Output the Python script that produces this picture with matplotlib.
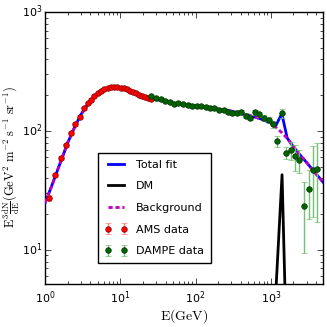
import matplotlib
matplotlib.use("Agg")
import matplotlib.pyplot as plt
import numpy as np

# AMS positron-like data (E in GeV, E^3 dN/dE, error)
ams_e = [1.11, 1.36, 1.63, 1.90, 2.21, 2.52, 2.88, 3.25, 3.67, 4.07, 4.5, 4.99, 5.52,
         6.1, 6.76, 7.48, 8.28, 9.16, 10.1, 11.1, 12.2, 13.4, 14.7, 16.1, 17.7, 19.4,
         21.3, 23.4, 25.7]
ams_v = [27.5, 42.5, 59.5, 76, 96, 114, 132, 155, 173, 184, 197, 207, 218,
         226, 232, 235, 236, 234, 232, 228, 224, 218, 213, 207, 202, 197,
         193, 190, 187]
ams_err = [1.5, 1.5, 2, 2.5, 3, 3, 3.5, 4, 4, 4, 4, 4, 4,
           4, 4, 4, 4, 4, 4, 4, 4, 4, 4, 4, 4, 4,
           4, 4, 4]

dampe_e = [25.9, 29.5, 34.4, 39.2, 45.7, 51.6, 59, 68.7, 79, 90, 103, 119, 136, 155,
           178, 204, 237, 271, 306, 355, 406, 469, 535, 611, 704, 804, 935, 1070,
           1208, 1406, 1603, 1829, 2113, 2405, 2780, 3170, 3615, 4170]
dampe_v = [197, 188, 184.5, 180, 174, 170, 171, 167.6, 165.6, 163, 162, 162, 160, 155,
           157, 151.6, 151, 145, 141, 143, 144, 134.6, 130, 143.6, 139, 129.5, 124, 114,
           82.4, 141, 65.8, 69.2, 61.6, 57, 23.4, 32.7, 47, 48.2]
dampe_err = [5, 5, 5, 5, 5, 5, 5, 5, 5, 5, 5, 5, 5, 5,
             5, 5, 5, 5, 5, 6, 6, 6, 6, 7, 7, 7, 7, 7,
             9, 13, 8, 12, 15, 13, 14, 14.6, 28, 31]

# model curves
model_e = [1.0, 1.2, 1.5, 2.0, 2.5, 3.0, 3.5, 4.0, 5.0, 6.0, 7.0, 8.0, 9.0, 10, 12, 15,
           20, 25, 30, 40, 50, 70, 100, 150, 200, 300, 400, 500, 700, 1000, 1155,
           1400, 1650, 2000, 2500, 3000, 4000, 5000]
background = [25, 33.5, 49, 80, 110, 138, 160, 180, 206, 223, 231, 234, 233, 230, 223, 211,
              197, 189, 184, 177, 172, 166, 162, 157, 153, 147, 141, 136, 128, 117, 108,
              97, 87, 73.6, 62, 54.3, 43.6, 36.9]
total_fit = [25, 33.5, 49, 80, 110, 138, 160, 180, 206, 223, 231, 234, 233, 230, 223, 211,
             197, 189, 184, 177, 172, 166, 162, 157, 153, 147, 141, 136, 128, 117, 110,
             140, 87.5, 73.6, 62, 54.3, 43.6, 36.9]

dm_e = [970, 1155, 1410, 1652, 1965]
dm_v = [0.5, 4.0, 43, 0.85, 0.1]

plt.style.use("classic")
plt.rcParams["font.family"] = ["DejaVu Sans"]
plt.rcParams["mathtext.fontset"] = "cm"

fig = plt.figure(figsize=(3.27, 3.27), dpi=100, facecolor="white")
ax = fig.add_axes([0.138, 0.132, 0.849, 0.831])

ax.plot(model_e, total_fit, color="blue", linewidth=2, label="Total fit", zorder=3)
ax.plot(dm_e, dm_v, color="black", linewidth=2, label="DM", zorder=3)
ax.plot(model_e, background, color="m", linestyle="--", linewidth=2,
        dashes=(3, 2), label="Background", zorder=4)
ax.errorbar(ams_e, ams_v, yerr=ams_err, fmt="o", color="red", ecolor=(1, 0.5, 0.5),
            markersize=4, markeredgecolor=(0.5, 0, 0), markeredgewidth=0.5,
            capsize=2, label="AMS data", zorder=5)
ax.errorbar(dampe_e, dampe_v, yerr=dampe_err, fmt="o", color="#006400",
            ecolor=(0.45, 0.75, 0.45), markersize=4, markeredgecolor="#003000",
            markeredgewidth=0.5, capsize=2, label="DAMPE data", zorder=5)

ax.set_xscale("log")
ax.set_yscale("log")
ax.set_xlim(1, 4900)
ax.set_ylim(5.2, 1000)
ax.tick_params(labelsize=8, which="both")
ax.tick_params(axis="y", pad=2)
ax.set_xlabel(r"$\mathrm{E(GeV)}$", fontsize=10, labelpad=1)
ax.set_ylabel(r"$\mathrm{E^3\frac{dN}{dE}(GeV^2\ m^{-2}\ s^{-1}\ sr^{-1})}$",
              fontsize=9)
ax.yaxis.set_label_coords(-0.084, 0.465)

ax.legend(loc="lower left", bbox_to_anchor=(0.191, 0.077), borderaxespad=0,
          fontsize=8, numpoints=2, labelspacing=1.05, handlelength=2.0,
          borderpad=0.6)

fig.savefig("out.png", dpi=100)
